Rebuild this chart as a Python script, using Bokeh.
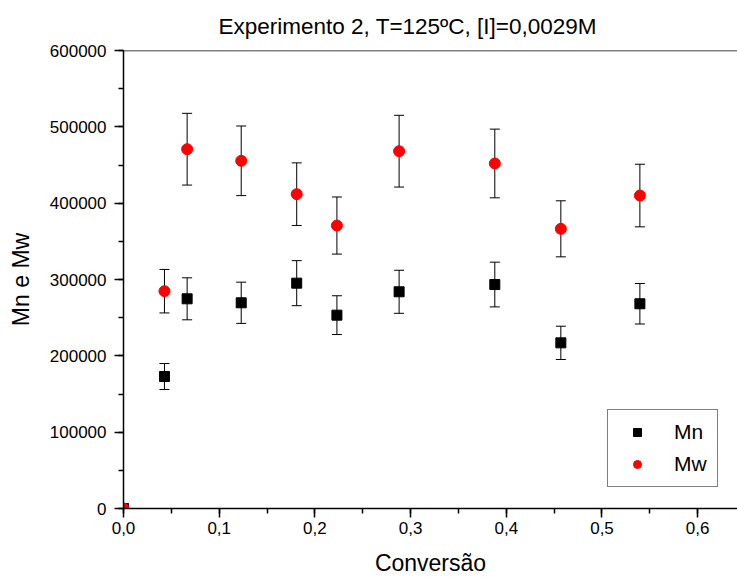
from bokeh.plotting import figure
from bokeh.models import (ColumnDataSource, Whisker, TeeHead, SingleIntervalTicker,
                          CustomJSTickFormatter, Legend, LegendItem, Range1d, Span, Title)
from bokeh.embed import file_html
from bokeh.resources import INLINE

# ---- data ----
conversao = [0.0, 0.0428, 0.0665, 0.123, 0.181, 0.223, 0.288, 0.388, 0.457, 0.5396]
mn = [0, 172900, 274700, 269500, 295200, 253300, 283900, 293400, 217000, 268200]
mn_err = [0, 17000, 27500, 27000, 29500, 25400, 28200, 29300, 21800, 26500]
mw = [0, 284700, 470700, 455500, 411800, 370700, 468100, 452000, 366400, 410000]
mw_err = [0, 28500, 47000, 45600, 41000, 37400, 47000, 45000, 36700, 41000]
x_ticks_interval = 0.1
y_ticks_interval = 100000
y_max = 600000
title_text = "Experimento 2, T=125ºC, [I]=0,0029M"
x_label = "Conversão"
y_label = "Mn e Mw"

FONT = "Liberation Sans"

p = figure(width=737, height=581, output_backend="svg", toolbar_location=None,
           x_range=Range1d(0, 0.6416), y_range=Range1d(0, y_max),
           min_border_left=123, min_border_right=0, min_border_top=50, min_border_bottom=73,
           title=Title(text=title_text))
p.background_fill_color = "white"
p.border_fill_color = "white"
p.outline_line_color = None
p.grid.visible = False

p.title.text_font = FONT
p.title.text_font_size = "22.5px"
p.title.text_font_style = "normal"
p.title.text_color = "black"
p.title.vertical_align = "middle"
p.title.align = "left"
p.title.offset = 95
p.title.standoff = 22

# axes styling
for ax in (p.xaxis[0], p.yaxis[0]):
    ax.axis_line_width = 1.5
    ax.axis_line_color = "black"
    ax.major_tick_line_color = "black"
    ax.minor_tick_line_color = "black"
    ax.major_tick_line_width = 1.5
    ax.minor_tick_line_width = 1.5
    ax.major_tick_in = 0
    ax.major_tick_out = 9
    ax.minor_tick_in = 0
    ax.minor_tick_out = 5
    ax.major_label_text_font = FONT
    ax.major_label_text_font_size = "17px"
    ax.major_label_text_color = "black"
    ax.axis_label_text_font = FONT
    ax.axis_label_text_font_size = "23px"
    ax.axis_label_text_font_style = "normal"
    ax.axis_label_text_color = "black"

p.xaxis[0].ticker = SingleIntervalTicker(interval=x_ticks_interval, num_minor_ticks=2)
p.yaxis[0].ticker = SingleIntervalTicker(interval=y_ticks_interval, num_minor_ticks=2)
p.xaxis[0].formatter = CustomJSTickFormatter(code="return tick.toFixed(1).replace('.', ',');")
p.yaxis[0].formatter = CustomJSTickFormatter(code="return tick.toFixed(0);")
p.xaxis[0].axis_label = x_label
p.yaxis[0].axis_label = y_label
p.xaxis[0].major_label_standoff = 4
p.yaxis[0].major_label_standoff = 8
p.xaxis[0].axis_label_standoff = 13
p.yaxis[0].axis_label_standoff = 13

# top border line
p.add_layout(Span(location=y_max, dimension="width", line_color="black", line_width=1.5))

# error bars
def err_source(xs, ys, es):
    keep = [i for i in range(len(xs)) if es[i] > 0]
    return ColumnDataSource(dict(
        x=[xs[i] for i in keep],
        upper=[ys[i] + es[i] for i in keep],
        lower=[ys[i] - es[i] for i in keep]))

for ys, es in ((mn, mn_err), (mw, mw_err)):
    w = Whisker(source=err_source(conversao, ys, es), base="x", upper="upper", lower="lower",
                dimension="height", line_color="black", line_width=1,
                upper_head=TeeHead(size=10, line_color="black", line_width=1),
                lower_head=TeeHead(size=10, line_color="black", line_width=1))
    p.add_layout(w)

src = ColumnDataSource(dict(x=conversao, mn=mn, mw=mw))
r_mn = p.scatter("x", "mn", source=src, marker="square", size=10, fill_color="black",
                 line_color="black")
r_mw = p.scatter("x", "mw", source=src, marker="circle", size=11, fill_color="red",
                 line_color="red")

legend = Legend(items=[LegendItem(label="Mn", renderers=[r_mn]),
                       LegendItem(label="Mw", renderers=[r_mw])],
                location=(484, 21), orientation="vertical")
legend.margin = 0
legend.padding = 10
legend.spacing = 8
legend.glyph_width = 38
legend.glyph_height = 20
legend.label_height = 20
legend.label_standoff = 18
legend.label_text_font = FONT
legend.label_text_font_size = "21px"
legend.label_text_color = "black"
legend.border_line_color = "black"
legend.border_line_width = 1
legend.background_fill_color = "white"
legend.background_fill_alpha = 1
p.add_layout(legend, "center")

open("out.html", "w").write(file_html(p, INLINE))
